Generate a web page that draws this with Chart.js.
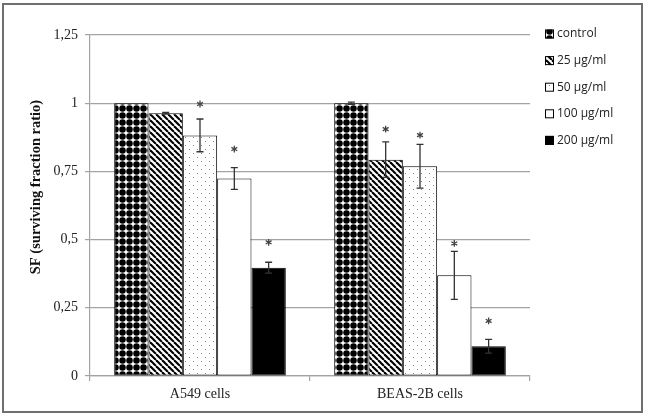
<!DOCTYPE html>
<html>
<head>
<meta charset="utf-8">
<script src="https://cdn.jsdelivr.net/npm/chart.js@4"></script>
<style>
  html, body { margin: 0; padding: 0; background: #fff; }
  #wrap { width: 645px; height: 418px; }
</style>
</head>
<body>
<div id="wrap"><canvas id="grafico"></canvas></div>
<script>
// Dados
const categorias = ['A549 cells', 'BEAS-2B cells'];
const rotulosSeries = ['control', '25 µg/ml', '50 µg/ml', '100 µg/ml', '200 µg/ml'];
const yTicks = [0, 0.25, 0.5, 0.75, 1, 1.25];

const controle = [1.0, 1.0];
const dose25 = [0.963, 0.793];
const dose50 = [0.882, 0.769];
const dose100 = [0.724, 0.369];
const dose200 = [0.397, 0.109];

const erroControle = [0, 0.004];
const erro25 = [0.003, 0.065];
const erro50 = [0.06, 0.08];
const erro100 = [0.04, 0.088];
const erro200 = [0.02, 0.025];

// altura do asterisco (null = sem significância)
const estrela25 = [null, 0.905];
const estrela50 = [0.997, 0.883];
const estrela100 = [0.832, 0.486];
const estrela200 = [0.49, 0.202];

// Padrões de preenchimento
function criarPadrao(tam, desenhar) {
    const c = document.createElement('canvas');
    c.width = tam; c.height = tam;
    const g = c.getContext('2d');
    g.fillStyle = '#fff';
    g.fillRect(0, 0, tam, tam);
    desenhar(g, tam);
    return document.createElement('canvas').getContext('2d').createPattern(c, 'repeat');
}

const padraoControle = criarPadrao(7, (g, t) => {
    g.fillStyle = '#000';
    g.beginPath();
    g.arc(t / 2, t / 2, 3.25, 0, Math.PI * 2);
    g.fill();
});
const padrao25 = criarPadrao(6, (g, t) => {
    g.strokeStyle = '#000';
    g.lineWidth = 2.1;
    for (const o of [-t, 0, t]) {
        g.beginPath();
        g.moveTo(o, 0);
        g.lineTo(o + t, t);
        g.stroke();
    }
});
const padrao50 = criarPadrao(8, (g) => {
    g.fillStyle = '#888';
    g.fillRect(1, 1, 1, 1);
    g.fillRect(5, 5, 1, 1);
});

const preenchimentos = [padraoControle, padrao25, padrao50, '#fff', '#000'];
const valores = [controle, dose25, dose50, dose100, dose200];
const erros = [erroControle, erro25, erro50, erro100, erro200];
const estrelas = [[null, null], estrela25, estrela50, estrela100, estrela200];

const cinzaGrade = '#a3a3a3';

const pluginMoldura = {
    id: 'moldura',
    beforeDraw(chart) {
        const ctx = chart.ctx;
        ctx.save();
        ctx.fillStyle = '#fff';
        ctx.fillRect(0, 0, chart.width, chart.height);
        ctx.strokeStyle = '#6e6e6e';
        ctx.lineWidth = 2;
        ctx.strokeRect(3, 4, 639, 408);
        ctx.restore();
    }
};

const pluginErros = {
    id: 'erros',
    afterDatasetsDraw(chart) {
        const ctx = chart.ctx;
        const y = chart.scales.y;
        ctx.save();
        chart.data.datasets.forEach((ds, i) => {
            const meta = chart.getDatasetMeta(i);
            meta.data.forEach((bar, j) => {
                const v = ds.data[j];
                const e = erros[i][j];
                if (e > 0) {
                    const yTop = y.getPixelForValue(v + e);
                    const yBot = y.getPixelForValue(v - e);
                    ctx.strokeStyle = '#333';
                    ctx.lineWidth = 1.3;
                    ctx.beginPath();
                    ctx.moveTo(bar.x, yTop); ctx.lineTo(bar.x, yBot);
                    ctx.moveTo(bar.x - 3.5, yTop); ctx.lineTo(bar.x + 3.5, yTop);
                    ctx.moveTo(bar.x - 3.5, yBot); ctx.lineTo(bar.x + 3.5, yBot);
                    ctx.stroke();
                }
                const s = estrelas[i][j];
                if (s !== null) {
                    const sy = y.getPixelForValue(s);
                    ctx.strokeStyle = '#444';
                    ctx.lineWidth = 1.3;
                    ctx.beginPath();
                    for (let k = 0; k < 3; k++) {
                        const a = Math.PI / 2 + k * Math.PI / 3;
                        ctx.moveTo(bar.x - 3.4 * Math.cos(a), sy - 3.4 * Math.sin(a));
                        ctx.lineTo(bar.x + 3.4 * Math.cos(a), sy + 3.4 * Math.sin(a));
                    }
                    ctx.stroke();
                }
            });
        });
        ctx.restore();
    }
};

const pluginLegenda = {
    id: 'legendaLateral',
    afterDraw(chart) {
        const ctx = chart.ctx;
        ctx.save();
        ctx.font = '12px "Open Sans"';
        ctx.textBaseline = 'middle';
        chart.data.datasets.forEach((ds, i) => {
            const cy = 34 + i * 26.6;
            ctx.fillStyle = ds.backgroundColor;
            ctx.fillRect(545, cy - 4.5, 9, 9);
            ctx.strokeStyle = '#000';
            ctx.lineWidth = 1;
            ctx.strokeRect(545.5, cy - 4, 8, 8);
            ctx.fillStyle = '#222';
            ctx.fillText(ds.label, 557, cy);
        });
        // título do eixo Y
        ctx.translate(36, 187);
        ctx.rotate(-Math.PI / 2);
        ctx.textAlign = 'center';
        ctx.font = 'bold 14.5px "Liberation Serif"';
        ctx.fillStyle = '#111';
        ctx.fillText('SF (surviving fraction ratio)', 0, 0);
        ctx.restore();
    }
};

new Chart(document.getElementById('grafico'), {
    type: 'bar',
    data: {
        labels: categorias,
        datasets: rotulosSeries.map((rotulo, i) => ({
            label: rotulo,
            data: valores[i],
            backgroundColor: preenchimentos[i],
            borderColor: '#000',
            borderWidth: 1,
            borderSkipped: false,
            categoryPercentage: 0.78,
            barPercentage: 1.0
        }))
    },
    options: {
        responsive: true,
        maintainAspectRatio: false,
        animation: false,
        layout: { padding: { left: 0, top: 35, right: 115, bottom: 0 } },
        plugins: {
            legend: { display: false },
            tooltip: { enabled: false }
        },
        scales: {
            y: {
                min: 0,
                max: 1.25,
                afterFit: (s) => { s.width = 90; },
                afterBuildTicks: (s) => { s.ticks = yTicks.map(v => ({ value: v })); },
                ticks: {
                    font: { family: '"Liberation Serif"', size: 14 },
                    color: '#222',
                    padding: 7,
                    callback: (v) => String(v).replace('.', ',')
                },
                grid: { color: cinzaGrade, tickLength: 5, tickColor: cinzaGrade, lineWidth: 1.2 },
                border: { display: true, color: cinzaGrade, width: 1.2 }
            },
            x: {
                afterFit: (s) => { s.height = 42; },
                ticks: {
                    font: { family: '"Liberation Serif"', size: 14 },
                    color: '#222',
                    padding: 5
                },
                grid: { offset: true, drawOnChartArea: false, tickLength: 5, color: cinzaGrade, lineWidth: 1.2 },
                border: { display: true, color: cinzaGrade, width: 1.2 }
            }
        }
    },
    plugins: [pluginMoldura, pluginErros, pluginLegenda]
});
</script>
</body>
</html>
